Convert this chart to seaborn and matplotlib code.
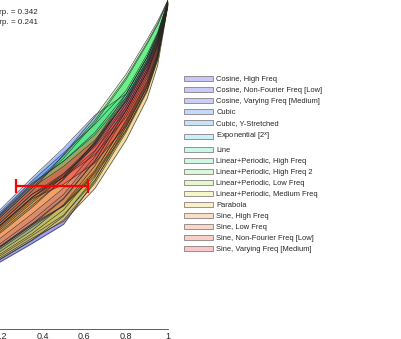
import matplotlib
matplotlib.use("Agg")
import matplotlib.pyplot as plt
from matplotlib.patches import Patch
import seaborn as sns
import pandas as pd

x_knots = [0.1, 0.2, 0.35, 0.5, 0.65, 0.8, 0.9, 0.95, 1.0]

# (upper edge, lower edge) for each function family
cosine_high = ([.206, .250, .316, .395, .510, .665, .781, .861, .992],
               [.170, .205, .260, .318, .450, .615, .736, .827, .988])
cosine_nonfourier = ([.216, .261, .330, .409, .524, .675, .790, .868, .993],
                     [.177, .213, .270, .343, .461, .625, .745, .834, .989])
cosine_varying = ([.229, .277, .350, .428, .540, .685, .799, .874, .993],
                  [.190, .229, .290, .362, .478, .635, .754, .841, .990])
cubic = ([.300, .365, .460, .550, .650, .715, .826, .895, 1.0],
         [.261, .317, .400, .468, .558, .685, .799, .874, .993])
cubic_ystretched = ([.294, .357, .450, .535, .622, .725, .835, .901, .996],
                    [.261, .317, .400, .472, .565, .695, .808, .881, .994])
exponential = ([.287, .349, .440, .510, .597, .715, .826, .895, .996],
               [.255, .309, .390, .463, .563, .695, .808, .881, .994])
line = ([.284, .346, .436, .527, .634, .765, .871, .928, .999],
        [.251, .304, .384, .463, .567, .705, .817, .888, .995])
linper_high = ([.281, .341, .430, .519, .627, .759, .866, .924, .999],
               [.245, .298, .376, .454, .560, .699, .812, .884, .994])
linper_high2 = ([.274, .333, .420, .530, .645, .775, .880, .935, 1.0],
                [.242, .293, .370, .456, .570, .715, .826, .895, .995])
linper_low = ([.209, .253, .320, .397, .512, .665, .781, .861, .992],
              [.186, .224, .284, .346, .452, .605, .727, .821, .987])
linper_medium = ([.196, .237, .300, .378, .496, .655, .772, .854, .990],
                 [.177, .213, .270, .331, .443, .599, .722, .816, .986])
parabola = ([.203, .245, .310, .376, .482, .631, .750, .838, .990],
            [.180, .218, .276, .327, .427, .575, .700, .800, .985])
sine_high = ([.261, .317, .400, .461, .542, .665, .781, .861, .992],
             [.209, .253, .320, .374, .466, .605, .727, .821, .987])
sine_low = ([.268, .325, .410, .472, .553, .675, .790, .868, .993],
            [.206, .250, .316, .374, .473, .615, .736, .827, .988])
sine_nonfourier = ([.290, .352, .444, .510, .590, .705, .817, .888, .995],
                   [.268, .325, .410, .461, .530, .645, .763, .847, .990])
sine_varying = ([.281, .341, .430, .494, .574, .691, .804, .878, .994],
                [.258, .314, .396, .440, .505, .619, .740, .830, .989])

labels = ["Cosine, High Freq", "Cosine, Non-Fourier Freq [Low]",
          "Cosine, Varying Freq [Medium]", "Cubic", "Cubic, Y-Stretched",
          r"Exponential [2$^{x}$]", "Line", "Linear+Periodic, High Freq",
          "Linear+Periodic, High Freq 2", "Linear+Periodic, Low Freq",
          "Linear+Periodic, Medium Freq", "Parabola", "Sine, High Freq",
          "Sine, Low Freq", "Sine, Non-Fourier Freq [Low]",
          "Sine, Varying Freq [Medium]"]
bands = [cosine_high, cosine_nonfourier, cosine_varying, cubic, cubic_ystretched,
         exponential, line, linper_high, linper_high2, linper_low, linper_medium,
         parabola, sine_high, sine_low, sine_nonfourier, sine_varying]

# red bar: centre, half width, height
bar_x, bar_half, bar_y = 0.445, 0.172, 0.435
stat_lines = ["Mean interp. = 0.342", "Median interp. = 0.241"]
x_ticks = [0, 0.2, 0.4, 0.6, 0.8, 1.0]
x_tick_labels = ["0", "0.2", "0.4", "0.6", "0.8", "1"]

fill_colors = ["#3c3cf0", "#3c46f5", "#3c5af5", "#3c78f5", "#3c9cf5", "#3cd2f0",
               "#3cf0b4", "#46f08c", "#64f064", "#96f046", "#c8e650", "#e8b450",
               "#f0963c", "#f0783c", "#f05a3c", "#f03c3c"]
legend_colors = ["#c8c8f8", "#c8caf8", "#c8d0f8", "#c8d8f8", "#c8e2f8", "#c8f2f8",
                 "#c8f8ec", "#d0f8e0", "#d8f8d8", "#e4f8d0", "#f4f8c8", "#f8f0c8",
                 "#f8e0c8", "#f8d8c8", "#f8d0c8", "#f8c8c8"]

sns.set_style("white")
plt.rcParams['font.family'] = ['Liberation Sans', 'DejaVu Sans']

fig = plt.figure(figsize=(4.01, 3.39), dpi=100)
ax = fig.add_axes([-0.1022, 0.0295, 0.5212, 0.9705])

rows = []
for i, ((up, lo), col) in enumerate(zip(bands, fill_colors)):
    ax.fill_between(x_knots, lo, up, facecolor=col, alpha=0.5, linewidth=0)
    for j, edge in enumerate((up, lo)):
        for xv, yv in zip(x_knots, edge):
            rows.append({'x': xv, 'y': yv, 'curve': f"{i}-{j}"})
edges = pd.DataFrame(rows)

sns.lineplot(data=edges, x='x', y='y', units='curve', estimator=None,
             color='#262626', linewidth=0.45, alpha=0.85, sort=False,
             legend=False, ax=ax)

ax.errorbar([bar_x], [bar_y], xerr=[bar_half], fmt='none', ecolor='red',
            elinewidth=1.6, capsize=5, capthick=1.6, zorder=5)

ax.set_xlim(0, 1)
ax.set_ylim(0, 1)
ax.set_xticks(x_ticks)
ax.set_xticklabels(x_tick_labels)
ax.set_yticks([])
ax.set_xlabel("")
ax.set_ylabel("")
sns.despine(ax=ax, left=True)
ax.spines['bottom'].set_color('#444444')
ax.spines['bottom'].set_linewidth(0.6)
ax.tick_params(axis='x', direction='in', length=3, width=0.6,
               color='#444444', labelsize=6.5, pad=2)

for k, txt in enumerate(stat_lines):
    fig.text(38 / 401, 1 - 12 / 339 - k * 10 / 339, txt, ha='right',
             va='center', fontsize=5.8)

handles = [Patch(facecolor=c, edgecolor='#8c7f7f', linewidth=0.6)
           for c in legend_colors]
fig.legend(handles, labels, loc='upper left',
           bbox_to_anchor=(184 / 401, 1 - 76 / 339), frameon=False,
           fontsize=5.4, handlelength=3.9, handleheight=0.7,
           handletextpad=0.4, labelspacing=0.5, borderpad=0,
           borderaxespad=0)

fig.savefig("out.png", dpi=100)
